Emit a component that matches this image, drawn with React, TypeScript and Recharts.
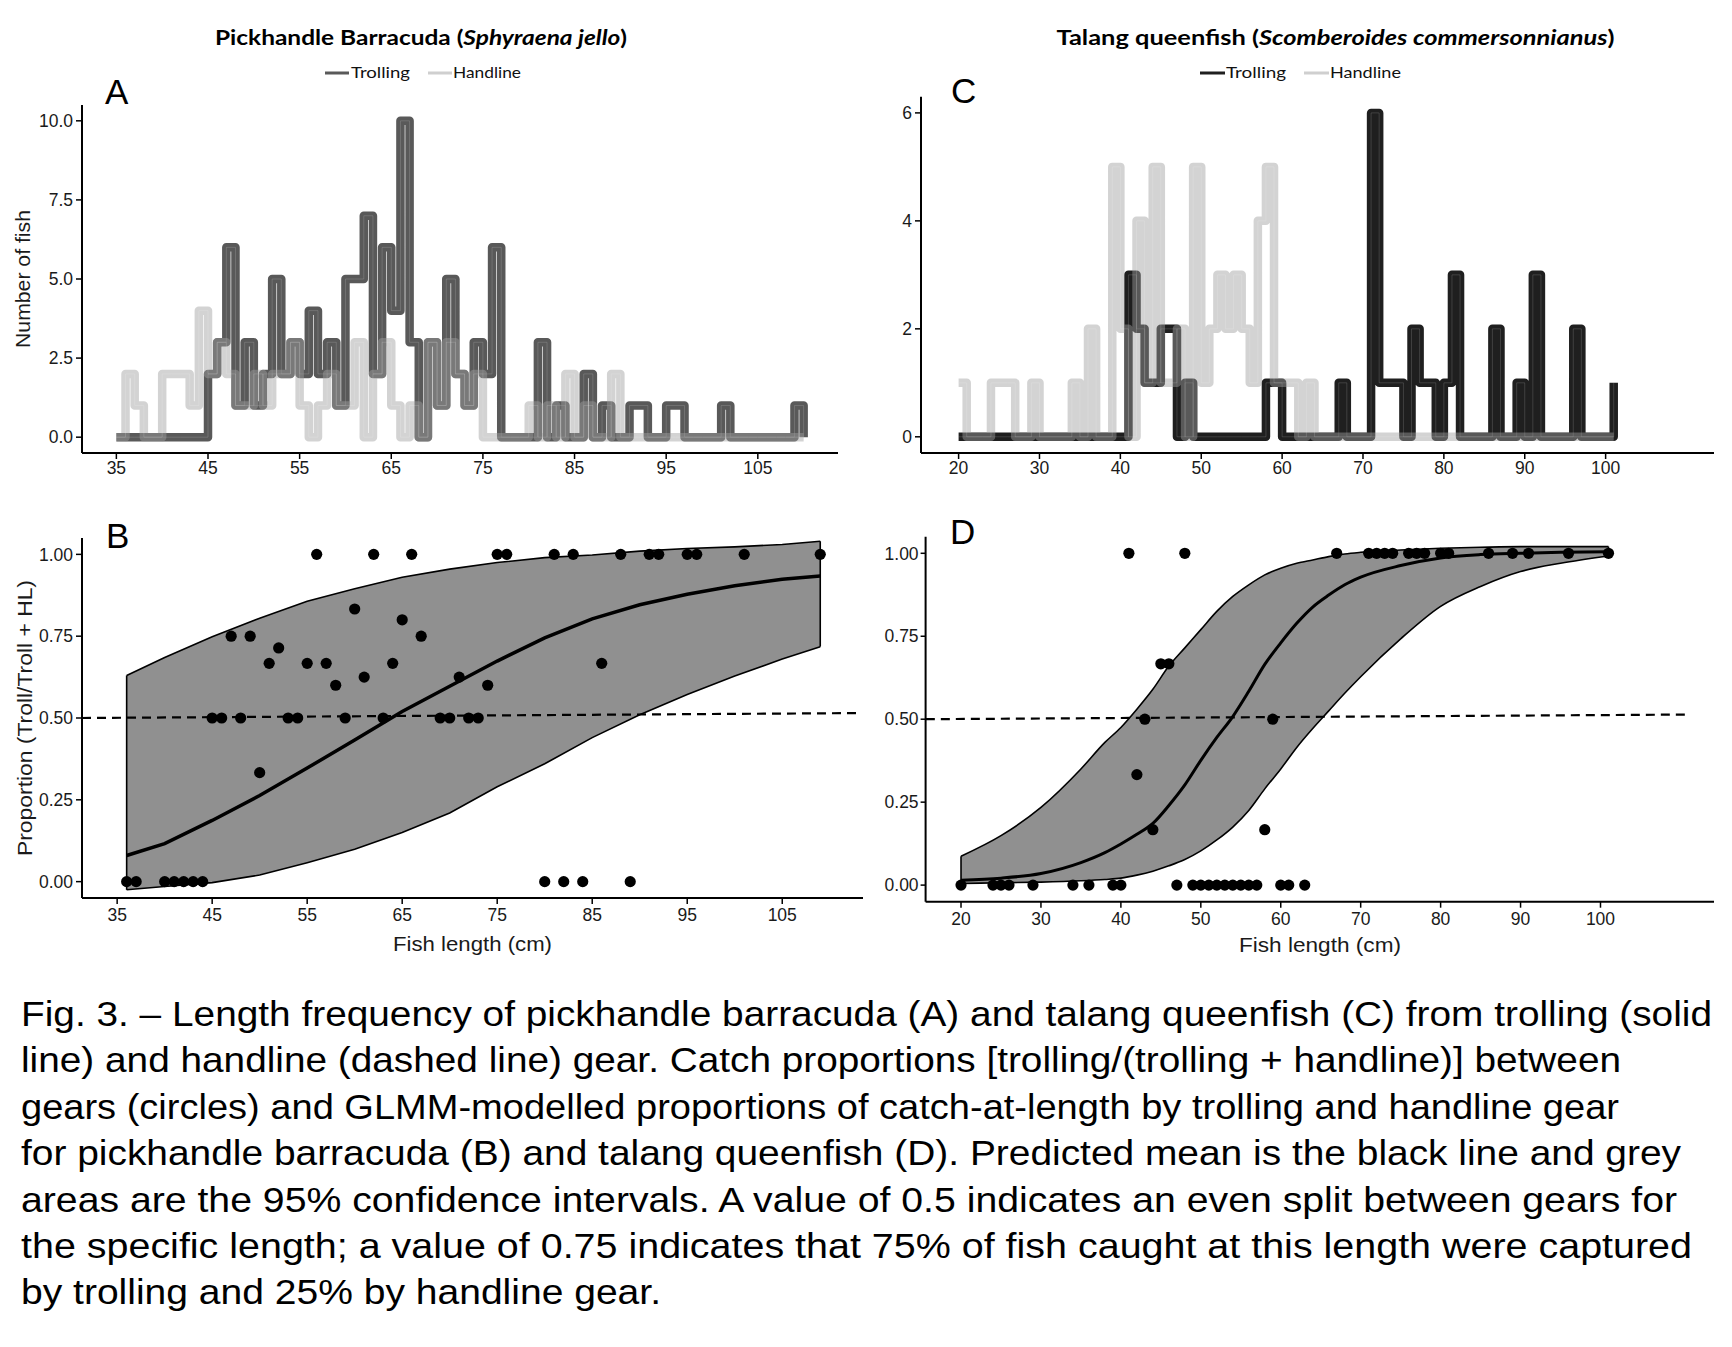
import React from 'react';
import {
  LineChart, Line, XAxis, YAxis, ComposedChart, Area, Scatter, ReferenceLine,
} from 'recharts';

// ---------- Panel A: Pickhandle barracuda length frequency ----------
const binsA = Array.from({ length: 76 }, (_, i) => 35 + i); // 35..110 cm
const trollA = [
  0, 0, 0, 0, 0, 0, 0, 0, 0, 0,
  2, 3, 6, 1, 3, 1, 2, 5, 2, 3,
  2, 4, 2, 3, 1, 5, 5, 7, 2, 6,
  4, 10, 3, 0, 3, 1, 5, 2, 1, 3,
  2, 6, 0, 0, 0, 0, 3, 0, 1, 0,
  0, 2, 0, 1, 0, 0, 1, 1, 0, 0,
  1, 1, 0, 0, 0, 0, 1, 0, 0, 0,
  0, 0, 0, 0, 1, 0,
];
const handA = [
  0, 2, 1, 0, 0, 2, 2, 2, 1, 4,
  2, 3, 2, 1, 1, 2, 1, 2, 2, 3,
  1, 0, 1, 2, 1, 1, 3, 0, 2, 3,
  1, 0, 1, 0, 3, 1, 3, 2, 1, 2,
  0, 0, 0, 0, 0, 1, 0, 1, 0, 2,
  0, 1, 0, 0, 2, 0, 0, 0, 0, 0,
  0, 0, 0, 0, 0, 0, 0, 0, 0, 0,
  0, 0, 0, 0, 0, 0,
];
const ticksXA = [35, 45, 55, 65, 75, 85, 95, 105];
const ticksYA = [0, 2.5, 5, 7.5, 10];

// ---------- Panel C: Talang queenfish length frequency ----------
const binsC = Array.from({ length: 82 }, (_, i) => 20 + i); // 20..101 cm
const trollC = [
  0, 0, 0, 0, 0, 0, 0, 0, 0, 0,
  0, 0, 0, 0, 0, 0, 0, 0, 0, 0,
  0, 3, 2, 1, 1, 2, 2, 0, 1, 0,
  0, 0, 0, 0, 0, 0, 0, 0, 1, 1,
  0, 0, 0, 0, 0, 0, 0, 1, 0, 0,
  0, 6, 1, 1, 1, 0, 2, 1, 1, 0,
  1, 3, 0, 0, 0, 0, 2, 0, 0, 1,
  0, 3, 0, 0, 0, 0, 2, 0, 0, 0,
  0, 1,
];
const handC = [
  1, 0, 0, 0, 1, 1, 1, 0, 0, 1,
  0, 0, 0, 0, 1, 0, 2, 0, 0, 5,
  2, 0, 4, 1, 5, 1, 1, 2, 0, 5,
  1, 2, 3, 2, 3, 2, 1, 4, 5, 1,
  1, 1, 0, 1, 0, 0, 0, 0, 0, 0,
  0, 0, 0, 0, 0, 0, 0, 0, 0, 0,
  0, 0, 0, 0, 0, 0, 0, 0, 0, 0,
  0, 0, 0, 0, 0, 0, 0, 0, 0, 0,
  0, 0,
];
const ticksXC = [20, 30, 40, 50, 60, 70, 80, 90, 100];
const ticksYC = [0, 2, 4, 6];

// ---------- Panel B: proportions, barracuda ----------
const pointsB = [
  { x: 36, y: 0 }, { x: 37, y: 0 }, { x: 40, y: 0 }, { x: 41, y: 0 }, { x: 42, y: 0 },
  { x: 43, y: 0 }, { x: 44, y: 0 }, { x: 45, y: 0.5 }, { x: 46, y: 0.5 }, { x: 47, y: 0.75 },
  { x: 48, y: 0.5 }, { x: 49, y: 0.75 }, { x: 50, y: 0.333 }, { x: 51, y: 0.667 }, { x: 52, y: 0.714 },
  { x: 53, y: 0.5 }, { x: 54, y: 0.5 }, { x: 55, y: 0.667 }, { x: 56, y: 1 }, { x: 57, y: 0.667 },
  { x: 58, y: 0.6 }, { x: 59, y: 0.5 }, { x: 60, y: 0.833 }, { x: 61, y: 0.625 }, { x: 62, y: 1 },
  { x: 63, y: 0.5 }, { x: 64, y: 0.667 }, { x: 65, y: 0.8 }, { x: 66, y: 1 }, { x: 67, y: 0.75 },
  { x: 69, y: 0.5 }, { x: 70, y: 0.5 }, { x: 71, y: 0.625 }, { x: 72, y: 0.5 }, { x: 73, y: 0.5 },
  { x: 74, y: 0.6 }, { x: 75, y: 1 }, { x: 76, y: 1 }, { x: 80, y: 0 }, { x: 81, y: 1 },
  { x: 82, y: 0 }, { x: 83, y: 1 }, { x: 84, y: 0 }, { x: 86, y: 0.667 }, { x: 88, y: 1 },
  { x: 89, y: 0 }, { x: 91, y: 1 }, { x: 92, y: 1 }, { x: 95, y: 1 }, { x: 96, y: 1 },
  { x: 101, y: 1 }, { x: 109, y: 1 },
];
const lenB = [36, 40, 45, 50, 55, 60, 65, 70, 75, 80, 85, 90, 95, 100, 105, 109];
const hiB = [0.63, 0.685, 0.748, 0.805, 0.857, 0.895, 0.93, 0.955, 0.975, 0.99, 0.998, 1.01, 1.018, 1.023, 1.03, 1.04];
const meanB = [0.08, 0.116, 0.187, 0.263, 0.347, 0.433, 0.52, 0.597, 0.674, 0.745, 0.803, 0.846, 0.878, 0.904, 0.924, 0.934];
const loB = [-0.025, -0.015, -0.003, 0.02, 0.058, 0.099, 0.15, 0.21, 0.29, 0.36, 0.44, 0.51, 0.572, 0.628, 0.68, 0.718];
const dashB = [{ x: 31.3, y: 0.5 }, { x: 113.1, y: 0.515 }];
const ticksYB = [0, 0.25, 0.5, 0.75, 1];

// ---------- Panel D: proportions, queenfish ----------
const pointsD = [
  { x: 20, y: 0 }, { x: 24, y: 0 }, { x: 25, y: 0 }, { x: 26, y: 0 }, { x: 29, y: 0 },
  { x: 34, y: 0 }, { x: 36, y: 0 }, { x: 39, y: 0 }, { x: 40, y: 0 }, { x: 41, y: 1 },
  { x: 42, y: 0.333 }, { x: 43, y: 0.5 }, { x: 44, y: 0.167 }, { x: 45, y: 0.667 }, { x: 46, y: 0.667 },
  { x: 47, y: 0 }, { x: 48, y: 1 }, { x: 49, y: 0 }, { x: 50, y: 0 }, { x: 51, y: 0 },
  { x: 52, y: 0 }, { x: 53, y: 0 }, { x: 54, y: 0 }, { x: 55, y: 0 }, { x: 56, y: 0 },
  { x: 57, y: 0 }, { x: 58, y: 0.167 }, { x: 59, y: 0.5 }, { x: 60, y: 0 }, { x: 61, y: 0 },
  { x: 63, y: 0 }, { x: 67, y: 1 }, { x: 71, y: 1 }, { x: 72, y: 1 }, { x: 73, y: 1 },
  { x: 74, y: 1 }, { x: 76, y: 1 }, { x: 77, y: 1 }, { x: 78, y: 1 }, { x: 80, y: 1 },
  { x: 81, y: 1 }, { x: 86, y: 1 }, { x: 89, y: 1 }, { x: 91, y: 1 }, { x: 96, y: 1 },
  { x: 101, y: 1 },
];
const lenD = [20, 25, 30, 35, 38, 40, 42, 44, 46, 48, 50, 52, 54, 56, 58, 60, 62, 64, 66, 68, 70, 75, 80, 85, 90, 95, 101];
const hiD = [0.087, 0.149, 0.234, 0.35, 0.43, 0.475, 0.53, 0.59, 0.66, 0.715, 0.77, 0.825, 0.87, 0.905, 0.935, 0.955, 0.97, 0.98, 0.99, 0.998, 1.003, 1.01, 1.015, 1.018, 1.02, 1.02, 1.02];
const meanD = [0.015, 0.021, 0.035, 0.068, 0.098, 0.124, 0.153, 0.186, 0.24, 0.302, 0.376, 0.445, 0.508, 0.584, 0.665, 0.73, 0.789, 0.838, 0.874, 0.905, 0.928, 0.963, 0.986, 0.996, 1.0, 1.003, 1.005];
const loD = [0.005, 0.007, 0.009, 0.013, 0.017, 0.021, 0.03, 0.042, 0.058, 0.077, 0.103, 0.136, 0.175, 0.225, 0.29, 0.35, 0.415, 0.472, 0.525, 0.578, 0.628, 0.742, 0.84, 0.9, 0.945, 0.97, 0.992];
const dashD = [{ x: 15.6, y: 0.5 }, { x: 111, y: 0.514 }];

// ---------- Caption ----------
const captionLines = [
  'Fig. 3. \u2013 Length frequency of pickhandle barracuda (A) and talang queenfish (C) from trolling (solid',
  'line) and handline (dashed line) gear. Catch proportions [trolling/(trolling + handline)] between',
  'gears (circles) and GLMM-modelled proportions of catch-at-length by trolling and handline gear',
  'for pickhandle barracuda (B) and talang queenfish (D). Predicted mean is the black line and grey',
  'areas are the 95% confidence intervals. A value of 0.5 indicates an even split between gears for',
  'the specific length; a value of 0.75 indicates that 75% of fish caught at this length were captured',
  'by trolling and 25% by handline gear.',
];
const captionWidths = [1691, 1600, 1598, 1660, 1656, 1671, 640];

// ---------- derived tables ----------
const histA = binsA.map((x, i) => ({ x, troll: trollA[i], hand: handA[i] }));
const histC = binsC.map((x, i) => ({ x, troll: trollC[i], hand: handC[i] }));
const ribbonB = lenB.map((x, i) => ({ x, lo: loB[i], hi: hiB[i], mean: meanB[i] }));
const ribbonD = lenD.map((x, i) => ({ x, lo: loD[i], hi: hiD[i], mean: meanD[i] }));
const edge = (r: any) => [{ x: r.x, y: r.lo }, { x: r.x, y: r.hi }];

const FONT = "'Liberation Sans', Arial, Helvetica, sans-serif";
const TFONT = "Lato, 'Liberation Sans', sans-serif";
const tickStyle = { fontSize: 17.5, fill: '#1a1a1a', fontFamily: FONT };
const axisLine = { stroke: '#000', strokeWidth: 2 };
const tickLine = { stroke: '#000', strokeWidth: 1.5 };

const dot = (p: any) => <circle cx={p.cx} cy={p.cy} r={5.6} fill="#000" />;

function StepSeries(troll: string, hand: string) {
  return [
    <Line key="t" type="stepAfter" dataKey="troll" stroke={troll} strokeWidth={8.5} strokeLinejoin="round" dot={false} activeDot={false} isAnimationActive={false} />,
    <Line key="tc" type="stepAfter" dataKey="troll" stroke="#ffffff" strokeOpacity={0.15} strokeWidth={1} dot={false} activeDot={false} isAnimationActive={false} />,
    <Line key="h" type="stepAfter" dataKey="hand" stroke={hand} strokeOpacity={0.46} strokeWidth={8.5} strokeLinejoin="round" dot={false} activeDot={false} isAnimationActive={false} />,
    <Line key="hc" type="stepAfter" dataKey="hand" stroke="#ffffff" strokeOpacity={0.15} strokeWidth={1} dot={false} activeDot={false} isAnimationActive={false} />,
  ];
}

function Ribbon(ribbon: any[], dash: any[], curve: 'linear' | 'monotone', meanW: number) {
  return [
    <Area key="rib" data={ribbon} dataKey={(d: any) => [d.lo, d.hi]} type={curve} fill="#909090" fillOpacity={1} stroke="#000" strokeWidth={1.6} dot={false} activeDot={false} isAnimationActive={false} />,
    <Line key="le" data={edge(ribbon[0])} dataKey="y" stroke="#000" strokeWidth={1.6} dot={false} activeDot={false} isAnimationActive={false} />,
    <Line key="re" data={edge(ribbon[ribbon.length - 1])} dataKey="y" stroke="#000" strokeWidth={1.6} dot={false} activeDot={false} isAnimationActive={false} />,
    <ReferenceLine key="dash" segment={dash} stroke="#000" strokeWidth={2.2} strokeDasharray="9 6" ifOverflow="visible" />,
    <Line key="mean" data={ribbon} dataKey="mean" type={curve} stroke="#000" strokeWidth={meanW} dot={false} activeDot={false} isAnimationActive={false} />,
  ];
}

export default function App() {
  return (
    <div style={{ position: 'absolute', left: 0, top: 0, width: 1732, height: 1347, background: '#fff', overflow: 'hidden' }}>
      {/* Panel A */}
      <div style={{ position: 'absolute', left: 0, top: 0 }}>
        <LineChart width={880} height={480} data={histA} margin={{ top: 105, right: 42, left: 32, bottom: 0 }}>
          <XAxis type="number" dataKey="x" domain={[31.25, 113.75]} ticks={ticksXA} interval={0} height={27}
            tick={tickStyle} axisLine={axisLine} tickLine={tickLine} tickSize={6} tickMargin={3} />
          <YAxis type="number" domain={[-0.5, 10.5]} ticks={ticksYA} interval={0} width={50}
            tickFormatter={(v: number) => v.toFixed(1)} tick={tickStyle} axisLine={axisLine} tickLine={tickLine} tickSize={6} tickMargin={3} />
          {StepSeries('#595959', '#9f9f9f')}
        </LineChart>
      </div>
      {/* Panel C */}
      <div style={{ position: 'absolute', left: 880, top: 0 }}>
        <LineChart width={852} height={480} data={histC} margin={{ top: 96.7, right: 18, left: 11, bottom: 0 }}>
          <XAxis type="number" dataKey="x" domain={[15.35, 113.4]} ticks={ticksXC} interval={0} height={27}
            tick={tickStyle} axisLine={axisLine} tickLine={tickLine} tickSize={6} tickMargin={3} />
          <YAxis type="number" domain={[-0.3, 6.3]} ticks={ticksYC} interval={0} width={30}
            tick={tickStyle} axisLine={axisLine} tickLine={tickLine} tickSize={6} tickMargin={3} />
          {StepSeries('#1f1f1f', '#9f9f9f')}
        </LineChart>
      </div>
      {/* Panel B */}
      <div style={{ position: 'absolute', left: 0, top: 500 }}>
        <ComposedChart width={880} height={480} margin={{ top: 38, right: 17, left: 32, bottom: 55 }}>
          <XAxis type="number" dataKey="x" domain={[31.3, 113.5]} ticks={ticksXA} interval={0} height={27}
            tick={tickStyle} axisLine={axisLine} tickLine={tickLine} tickSize={6} tickMargin={5} />
          <YAxis type="number" dataKey="y" domain={[-0.05, 1.05]} ticks={ticksYB} interval={0} width={50}
            tickFormatter={(v: number) => v.toFixed(2)} tick={tickStyle} axisLine={axisLine} tickLine={tickLine} tickSize={6} tickMargin={3} />
          {Ribbon(ribbonB, dashB, 'linear', 3.5)}
          <Scatter data={pointsB} dataKey="y" fill="#000" shape={dot} isAnimationActive={false} />
        </ComposedChart>
      </div>
      {/* Panel D */}
      <div style={{ position: 'absolute', left: 880, top: 500 }}>
        <ComposedChart width={852} height={480} margin={{ top: 36.7, right: 18, left: 5.6, bottom: 51.3 }}>
          <XAxis type="number" dataKey="x" domain={[15.57, 114.2]} ticks={ticksXC} interval={0} height={27}
            tick={tickStyle} axisLine={axisLine} tickLine={tickLine} tickSize={6} tickMargin={5} />
          <YAxis type="number" dataKey="y" domain={[-0.05, 1.05]} ticks={ticksYB} interval={0} width={40}
            tickFormatter={(v: number) => v.toFixed(2)} tick={tickStyle} axisLine={axisLine} tickLine={tickLine} tickSize={5} tickMargin={2} />
          {Ribbon(ribbonD, dashD, 'monotone', 3)}
          <Scatter data={pointsD} dataKey="y" fill="#000" shape={dot} isAnimationActive={false} />
        </ComposedChart>
      </div>

      {/* Titles, legends, panel letters, axis titles, caption */}
      <svg width={1732} height={1347} style={{ position: 'absolute', left: 0, top: 0, pointerEvents: 'none' }}>
        <text x={421} y={45} textAnchor="middle" fontFamily={TFONT} fontWeight="bold" fontSize={21} fill="#000"
          textLength={412} lengthAdjust="spacingAndGlyphs">
          Pickhandle Barracuda (<tspan fontStyle="italic">Sphyraena jello</tspan>)
        </text>
        <text x={1335.5} y={45} textAnchor="middle" fontFamily={TFONT} fontWeight="bold" fontSize={21} fill="#000"
          textLength={558} lengthAdjust="spacingAndGlyphs">
          Talang queenfish (<tspan fontStyle="italic">Scomberoides commersonnianus</tspan>)
        </text>

        <line x1={325} x2={349} y1={73} y2={73} stroke="#595959" strokeWidth={3} />
        <text x={351} y={78} fontFamily={TFONT} fontSize={16} fill="#111" textLength={59} lengthAdjust="spacingAndGlyphs">Trolling</text>
        <line x1={428} x2={452} y1={73} y2={73} stroke="#cfcfcf" strokeWidth={3} />
        <text x={453} y={78} fontFamily={TFONT} fontSize={16} fill="#111" textLength={68} lengthAdjust="spacingAndGlyphs">Handline</text>

        <line x1={1200} x2={1225} y1={73} y2={73} stroke="#1f1f1f" strokeWidth={3} />
        <text x={1226} y={78} fontFamily={TFONT} fontSize={16} fill="#111" textLength={60} lengthAdjust="spacingAndGlyphs">Trolling</text>
        <line x1={1304} x2={1329} y1={73} y2={73} stroke="#cfcfcf" strokeWidth={3} />
        <text x={1330} y={78} fontFamily={TFONT} fontSize={16} fill="#111" textLength={71} lengthAdjust="spacingAndGlyphs">Handline</text>

        <text x={105} y={104} fontFamily={FONT} fontSize={35} fill="#000">A</text>
        <text x={106} y={548} fontFamily={FONT} fontSize={35} fill="#000">B</text>
        <text x={951} y={103} fontFamily={FONT} fontSize={35} fill="#000">C</text>
        <text x={950} y={544} fontFamily={FONT} fontSize={35} fill="#000">D</text>

        <text x={30} y={279} transform="rotate(-90 30 279)" textAnchor="middle" fontFamily={FONT} fontSize={21} fill="#1a1a1a"
          textLength={138} lengthAdjust="spacingAndGlyphs">Number of fish</text>
        <text x={32} y={718} transform="rotate(-90 32 718)" textAnchor="middle" fontFamily={FONT} fontSize={21} fill="#1a1a1a"
          textLength={276} lengthAdjust="spacingAndGlyphs">Proportion (Troll/Troll + HL)</text>
        <text x={472.5} y={951} textAnchor="middle" fontFamily={FONT} fontSize={21} fill="#1a1a1a"
          textLength={159} lengthAdjust="spacingAndGlyphs">Fish length (cm)</text>
        <text x={1320} y={952} textAnchor="middle" fontFamily={FONT} fontSize={21} fill="#1a1a1a"
          textLength={162} lengthAdjust="spacingAndGlyphs">Fish length (cm)</text>

        {captionLines.map((line, i) => (
          <text key={i} x={21} y={1026 + i * 46.4} fontFamily={FONT} fontSize={35} fill="#000"
            textLength={captionWidths[i]} lengthAdjust="spacingAndGlyphs">{line}</text>
        ))}
      </svg>
    </div>
  );
}
